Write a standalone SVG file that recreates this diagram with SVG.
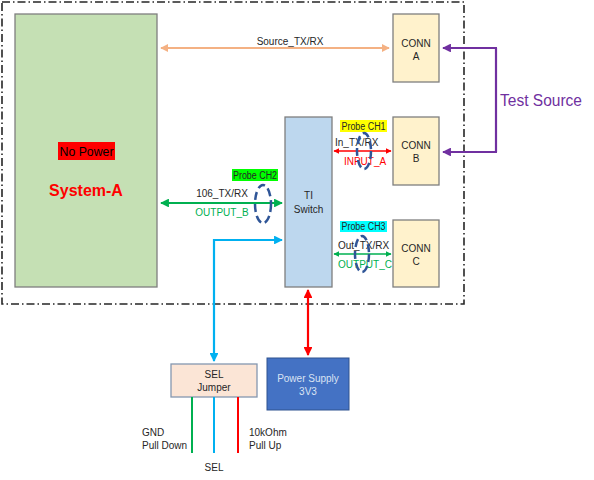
<svg xmlns="http://www.w3.org/2000/svg" width="594" height="480" viewBox="0 0 594 480">
<style>
text{font-family:"Liberation Sans",Arial,sans-serif;font-size:10px;fill:#262626}
.c{text-anchor:middle}
.box{stroke:#7f7f7f;stroke-width:1.3}
.conn{fill:#fff2cc}
.probe{fill:none;stroke:#2f5597;stroke-width:2.5;stroke-dasharray:8 4}
.pl{font-size:10px}
</style>
<defs>
<marker id="aOr" viewBox="0 0 10 10" refX="9" refY="5" markerWidth="4" markerHeight="4" orient="auto-start-reverse"><path d="M0,0L10,5L0,10z" fill="#f4b183"/></marker>
<marker id="aPu" viewBox="0 0 10 10" refX="9" refY="5" markerWidth="4" markerHeight="4" orient="auto-start-reverse"><path d="M0,0L10,5L0,10z" fill="#7030a0"/></marker>
<marker id="aGr" viewBox="0 0 10 10" refX="9" refY="5" markerWidth="4" markerHeight="4" orient="auto-start-reverse"><path d="M0,0L10,5L0,10z" fill="#00b050"/></marker>
<marker id="aRd" viewBox="0 0 10 10" refX="9" refY="5" markerWidth="4" markerHeight="4" orient="auto-start-reverse"><path d="M0,0L10,5L0,10z" fill="#ff0000"/></marker>
<marker id="aBl" viewBox="0 0 10 10" refX="9" refY="5" markerWidth="4" markerHeight="4" orient="auto-start-reverse"><path d="M0,0L10,5L0,10z" fill="#00b0f0"/></marker>
</defs>
<rect width="594" height="480" fill="#ffffff"/>
<rect x="2" y="2" width="462" height="302" fill="none" stroke="#262626" stroke-width="1.6" stroke-dasharray="8 3 1.5 3"/>

<g id="systemA">
<rect class="box" x="15" y="14" width="142" height="273" fill="#c5e0b4"/>
<rect x="58" y="142" width="57" height="18" fill="#ff0000"/>
<text class="c" x="86.5" y="155.5" textLength="54" lengthAdjust="spacingAndGlyphs" style="font-size:12.5px;fill:#000">No Power</text>
<text class="c" x="86" y="196" style="font-size:16px;font-weight:bold;fill:#ff0000">System-A</text>
</g>
<g id="connA">
<rect class="box conn" x="393" y="14" width="46" height="68"/>
<text class="c" x="416" y="47">CONN</text>
<text class="c" x="416" y="60">A</text>
</g>
<g id="connB">
<rect class="box conn" x="393" y="117" width="46" height="68"/>
<text class="c" x="416" y="149">CONN</text>
<text class="c" x="416" y="162">B</text>
</g>
<g id="connC">
<rect class="box conn" x="393" y="220" width="46" height="67"/>
<text class="c" x="416" y="252">CONN</text>
<text class="c" x="416" y="265">C</text>
</g>
<g id="tiSwitch">
<rect class="box" x="285" y="117" width="47" height="170" fill="#bdd7ee"/>
<text class="c" x="308.5" y="199">TI</text>
<text class="c" x="308.5" y="213">Switch</text>
</g>
<g id="power">
<rect x="267" y="358" width="82" height="52" fill="#4472c4" stroke="#2f528f" stroke-width="1"/>
<text class="c" x="308" y="382" style="fill:#dae3f3">Power Supply</text>
<text class="c" x="308" y="395" style="fill:#dae3f3">3V3</text>
</g>
<g id="selJumper">
<rect x="171" y="364" width="86" height="33" fill="#fbe5d6" stroke="#8497b0" stroke-width="1.3"/>
<text class="c" x="214" y="378">SEL</text>
<text class="c" x="214" y="391">Jumper</text>
</g>
<g id="testSource">
<text x="500" y="106" textLength="82" lengthAdjust="spacingAndGlyphs" style="font-size:16px;fill:#7030a0">Test Source</text>
</g>

<g id="connectors" fill="none">
<line x1="161" y1="48" x2="389" y2="48" stroke="#f4b183" stroke-width="2" marker-start="url(#aOr)" marker-end="url(#aOr)"/>
<polyline points="496,48 496,152" stroke="#7030a0" stroke-width="2.2"/>
<line x1="497" y1="48" x2="443" y2="48" stroke="#7030a0" stroke-width="2.2" marker-end="url(#aPu)"/>
<line x1="497" y1="152" x2="443" y2="152" stroke="#7030a0" stroke-width="2.2" marker-end="url(#aPu)"/>
<line x1="161" y1="203" x2="282" y2="203" stroke="#00b050" stroke-width="2.2" marker-start="url(#aGr)" marker-end="url(#aGr)"/>
<line x1="334" y1="151" x2="391" y2="151" stroke="#ff0000" stroke-width="1.5" marker-start="url(#aRd)" marker-end="url(#aRd)"/>
<line x1="334" y1="254" x2="391" y2="254" stroke="#00b050" stroke-width="1.5" marker-start="url(#aGr)" marker-end="url(#aGr)"/>
<polyline points="282,240 214,240 214,361" stroke="#00b0f0" stroke-width="2.2" marker-start="url(#aBl)" marker-end="url(#aBl)"/>
<line x1="308" y1="290" x2="308" y2="355" stroke="#ff0000" stroke-width="2.2" marker-start="url(#aRd)" marker-end="url(#aRd)"/>
<line x1="192" y1="397" x2="192" y2="453" stroke="#00b050" stroke-width="2"/>
<line x1="214" y1="397" x2="214" y2="453" stroke="#00b0f0" stroke-width="2"/>
<line x1="238" y1="397" x2="238" y2="453" stroke="#ff0000" stroke-width="2"/>
</g>

<g id="labels">
<text class="c" x="290" y="45">Source_TX/RX</text>
<text class="c" x="222" y="197">106_TX/RX</text>
<text class="c" x="222" y="216" style="fill:#00b050">OUTPUT_B</text>
<rect x="232" y="169" width="46" height="12" fill="#00ff00"/>
<text class="c pl" x="255" y="179" textLength="44" lengthAdjust="spacingAndGlyphs">Probe CH2</text>
<text x="335" y="146">In_TX/RX</text>
<text class="c" x="365" y="165" style="fill:#ff0000">INPUT_A</text>
<rect x="340" y="120" width="47" height="12" fill="#ffff00"/>
<text class="c pl" x="363.5" y="130" textLength="44" lengthAdjust="spacingAndGlyphs">Probe CH1</text>
<text x="338" y="249">Out_TX/RX</text>
<text class="c" x="365" y="268" style="fill:#00b050">OUTPUT_C</text>
<rect x="340" y="221" width="47" height="11" fill="#00ffff"/>
<text class="c pl" x="363.5" y="230" textLength="44" lengthAdjust="spacingAndGlyphs">Probe CH3</text>
<text x="142" y="436">GND</text>
<text x="142" y="449">Pull Down</text>
<text x="249" y="436">10kOhm</text>
<text x="249" y="449">Pull Up</text>
<text class="c" x="214" y="471">SEL</text>
</g>
<g id="probes">
<ellipse class="probe" cx="263" cy="204" rx="8" ry="19"/>
<ellipse class="probe" cx="364" cy="151" rx="7" ry="18"/>
<ellipse class="probe" cx="362" cy="254" rx="7" ry="18"/>
</g>
</svg>
